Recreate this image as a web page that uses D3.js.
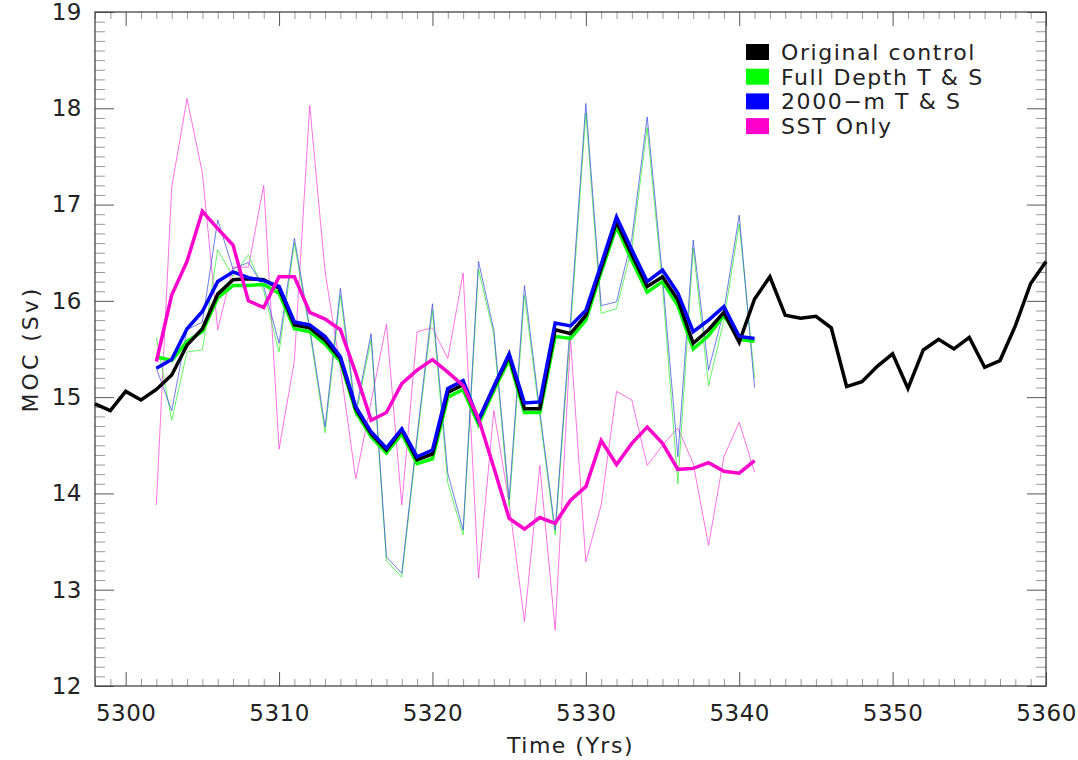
<!DOCTYPE html>
<html>
<head>
<meta charset="utf-8">
<script src="https://cdn.jsdelivr.net/npm/d3@7/dist/d3.min.js"></script>
<style>
  html, body { margin: 0; padding: 0; background: #fff; }
  svg { display: block; }
  text { font-family: "DejaVu Sans", "Liberation Sans", sans-serif; fill: #222; }
</style>
</head>
<body>
<svg id="chart" width="1078" height="760"></svg>
<script>
// Annual MOC (Sv), original control run 5298-5360
const controlYears = d3.range(5298, 5361);
const control = [14.93, 14.86, 15.06, 14.97, 15.08, 15.23, 15.54, 15.71, 16.07, 16.22,
  16.23, 16.22, 16.13, 15.75, 15.72, 15.59, 15.40, 14.88, 14.62, 14.45,
  14.66, 14.35, 14.41, 15.05, 15.13, 14.76, 15.10, 15.43, 14.88, 14.88,
  15.70, 15.66, 15.85, 16.34, 16.82, 16.48, 16.15, 16.25, 16.01, 15.56,
  15.70, 15.88, 15.57, 16.02, 16.25, 15.85, 15.82, 15.84, 15.72, 15.11,
  15.16, 15.32, 15.45, 15.09, 15.49, 15.60, 15.50, 15.62, 15.31, 15.38,
  15.74, 16.18, 16.41];

// Assimilation experiments, 5302-5341
const expYears = d3.range(5302, 5342);

// ensemble means (thick)
const fullDepthMean = [15.42, 15.38, 15.58, 15.68, 16.03, 16.16, 16.16, 16.17, 16.08, 15.71,
  15.68, 15.55, 15.37, 14.85, 14.59, 14.42, 14.62, 14.31, 14.36, 15.00,
  15.08, 14.72, 15.07, 15.39, 14.84, 14.84, 15.63, 15.61, 15.80, 16.30,
  16.77, 16.42, 16.09, 16.20, 15.95, 15.50, 15.64, 15.85, 15.60, 15.58];
const twoKmMean = [15.30, 15.39, 15.71, 15.89, 16.20, 16.30, 16.24, 16.21, 16.15, 15.78,
  15.75, 15.63, 15.42, 14.90, 14.64, 14.47, 14.67, 14.38, 14.45, 15.09,
  15.17, 14.76, 15.11, 15.45, 14.94, 14.95, 15.77, 15.74, 15.90, 16.38,
  16.87, 16.53, 16.20, 16.32, 16.08, 15.68, 15.80, 15.94, 15.63, 15.61];
const sstMean = [15.37, 16.06, 16.41, 16.93, 16.75, 16.58, 16.00, 15.93, 16.25, 16.25,
  15.88, 15.81, 15.70, 15.25, 14.76, 14.84, 15.14, 15.28, 15.39, 15.26,
  15.12, 14.78, 14.27, 13.74, 13.63, 13.75, 13.69, 13.93, 14.07, 14.55,
  14.30, 14.52, 14.69, 14.52, 14.25, 14.26, 14.32, 14.23, 14.21, 14.34];

// single members (thin)
const fullDepthRaw = [15.62, 14.76, 15.47, 15.49, 16.53, 16.25, 16.48, 16.10, 15.47, 16.60,
  15.68, 14.63, 16.06, 14.80, 15.60, 13.30, 13.13, 14.55, 15.90, 14.11,
  13.57, 16.33, 15.65, 13.86, 16.06, 14.80, 13.57, 15.70, 17.95, 15.87,
  15.92, 16.55, 17.80, 16.15, 14.10, 16.55, 15.12, 15.80, 16.80, 15.20];
const twoKmRaw = [15.30, 14.86, 15.70, 15.78, 16.84, 16.33, 16.40, 16.15, 15.56, 16.65,
  15.72, 14.69, 16.13, 14.85, 15.66, 13.34, 13.17, 14.60, 15.97, 14.21,
  13.62, 16.41, 15.70, 13.94, 16.16, 14.85, 13.62, 15.80, 18.05, 15.95,
  15.99, 16.65, 17.91, 16.25, 14.38, 16.63, 15.28, 15.90, 16.89, 15.10];
const sstRaw = [13.88, 17.18, 18.10, 17.33, 15.70, 16.35, 16.35, 17.20, 14.46, 15.38,
  18.03, 16.30, 15.30, 14.15, 14.95, 15.76, 13.88, 15.68, 15.72, 15.40,
  16.29, 13.12, 14.86, 13.90, 12.67, 14.29, 12.58, 15.60, 13.29, 13.88,
  15.06, 14.97, 14.29, 14.50, 14.68, 14.31, 13.46, 14.38, 14.74, 14.22];

const legendLabels = ["Original control", "Full Depth T & S", "2000\u2212m T & S", "SST Only"];
const legendColors = ["#000000", "#00ff00", "#0000ff", "#ff00cc"];

const xTicks = d3.range(5300, 5361, 10);
const yTicks = d3.range(12, 20, 1);

const svg = d3.select("#chart");
const L = 95, R = 1046, T = 12, B = 686;

const x = d3.scaleLinear().domain([5298, 5360]).range([L, R]);
const y = d3.scaleLinear().domain([12, 19]).range([B, T]);

const xMinor = d3.range(5298, 5361, 1).filter(v => v % 10 !== 0);
const yMinor = d3.range(120, 191, 1).map(v => v / 10).filter(v => Math.abs(v - Math.round(v)) > 1e-6);

const majX = 14, minX = 7, majY = 19, minY = 10;

function styleAxis(g, color) {
  g.select(".domain").remove();
  g.selectAll(".tick line").attr("stroke", color).attr("stroke-width", 1);
}

// minor ticks
svg.append("g").attr("transform", `translate(0,${B})`)
  .call(d3.axisBottom(x).tickValues(xMinor).tickSizeInner(-minX).tickSizeOuter(0).tickFormat(""))
  .call(g => styleAxis(g, "#999"));
svg.append("g").attr("transform", `translate(0,${T})`)
  .call(d3.axisTop(x).tickValues(xMinor).tickSizeInner(-minX).tickSizeOuter(0).tickFormat(""))
  .call(g => styleAxis(g, "#999"));
svg.append("g").attr("transform", `translate(${L},0)`)
  .call(d3.axisLeft(y).tickValues(yMinor).tickSizeInner(-minY).tickSizeOuter(0).tickFormat(""))
  .call(g => styleAxis(g, "#999"));
svg.append("g").attr("transform", `translate(${R},0)`)
  .call(d3.axisRight(y).tickValues(yMinor).tickSizeInner(-minY).tickSizeOuter(0).tickFormat(""))
  .call(g => styleAxis(g, "#999"));

// major ticks with labels
const xAxis = svg.append("g").attr("transform", `translate(0,${B})`)
  .call(d3.axisBottom(x).tickValues(xTicks).tickSizeInner(-majX).tickSizeOuter(0).tickPadding(19).tickFormat(d3.format("d")))
  .call(g => styleAxis(g, "#555"));
xAxis.selectAll(".tick text").attr("font-size", 23).attr("fill", "#333")
  .attr("letter-spacing", "0.5px")
  .attr("font-family", "'DejaVu Sans', sans-serif");

svg.append("g").attr("transform", `translate(0,${T})`)
  .call(d3.axisTop(x).tickValues(xTicks).tickSizeInner(-majX).tickSizeOuter(0).tickFormat(""))
  .call(g => styleAxis(g, "#555"));

const yAxis = svg.append("g").attr("transform", `translate(${L},0)`)
  .call(d3.axisLeft(y).tickValues(yTicks).tickSizeInner(-majY).tickSizeOuter(0).tickPadding(13).tickFormat(d3.format("d")))
  .call(g => styleAxis(g, "#555"));
yAxis.selectAll(".tick text").attr("font-size", 23).attr("fill", "#333")
  .attr("letter-spacing", "0.5px")
  .attr("font-family", "'DejaVu Sans', sans-serif");

svg.append("g").attr("transform", `translate(${R},0)`)
  .call(d3.axisRight(y).tickValues(yTicks).tickSizeInner(-majY).tickSizeOuter(0).tickFormat(""))
  .call(g => styleAxis(g, "#555"));

// frame
svg.append("rect").attr("x", L).attr("y", T).attr("width", R - L).attr("height", B - T)
  .attr("fill", "none").attr("stroke", "#444").attr("stroke-width", 1.3);

// axis titles
svg.append("text").attr("x", (L + R) / 2).attr("y", 753).attr("text-anchor", "middle")
  .attr("font-size", 22).attr("letter-spacing", "1.5px").attr("fill", "#333").text("Time (Yrs)");
svg.append("text").attr("transform", `translate(38,${(T + B) / 2}) rotate(-90)`)
  .attr("text-anchor", "middle").attr("font-size", 22).attr("letter-spacing", "3px")
  .attr("fill", "#333").text("MOC (Sv)");

// series
const plot = svg.append("g");
const line = d3.line().x(d => x(d[0])).y(d => y(d[1]));
const pairs = (yrs, vals) => yrs.map((yr, i) => [yr, vals[i]]);

function draw(yrs, vals, color, width, opacity) {
  plot.append("path").datum(pairs(yrs, vals))
    .attr("d", line).attr("fill", "none")
    .attr("stroke", color).attr("stroke-width", width)
    .attr("stroke-opacity", opacity)
    .attr("stroke-linejoin", "miter").attr("stroke-linecap", "butt");
}

draw(expYears, sstRaw, "#ff44d8", 1, 0.75);
draw(expYears, fullDepthRaw, "#33ee33", 1, 0.75);
draw(expYears, twoKmRaw, "#3344dd", 1, 0.7);

draw(expYears, fullDepthMean, legendColors[1], 3.5, 1);
draw(controlYears, control, legendColors[0], 3.5, 1);
draw(expYears, twoKmMean, legendColors[2], 3.5, 1);
draw(expYears, sstMean, legendColors[3], 3.5, 1);

// legend
const leg = svg.append("g");
legendLabels.forEach((lab, i) => {
  const cy = 52 + i * 24.7;
  leg.append("rect").attr("x", 746).attr("y", cy - 8).attr("width", 23).attr("height", 16)
    .attr("fill", legendColors[i]);
  leg.append("text").attr("x", 781).attr("y", cy + 8).attr("font-size", 22)
    .attr("letter-spacing", "1.6px")
    .attr("fill", "#111").text(lab);
});
</script>
</body>
</html>
